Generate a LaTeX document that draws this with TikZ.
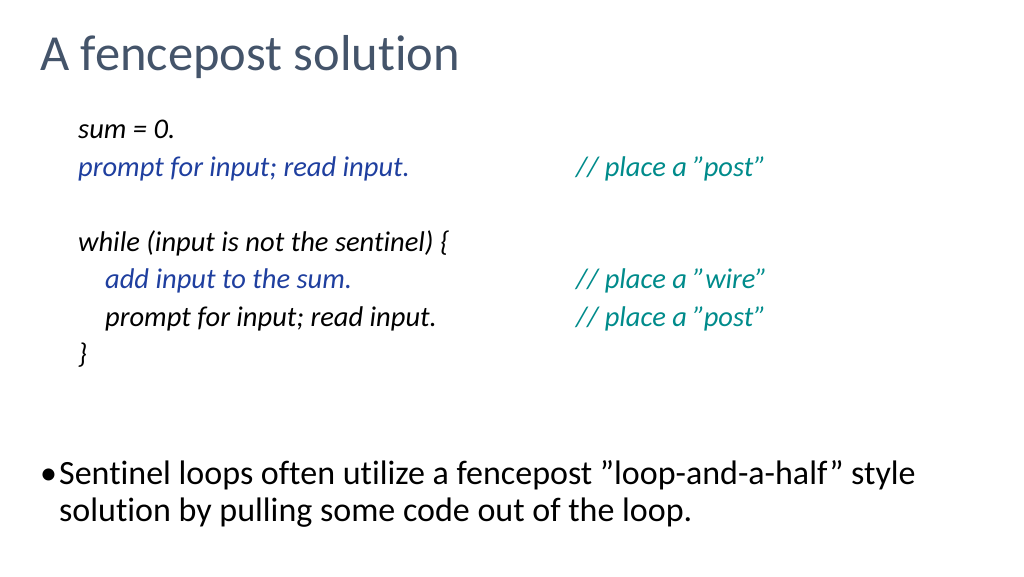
\documentclass[tikz,border=0pt]{standalone}
\usepackage{fontspec}
\setmainfont{Carlito}[Ligatures=NoCommon]
\definecolor{titlec}{HTML}{44546A}
\definecolor{codeblue}{HTML}{1F3F9F}
\definecolor{teal2}{HTML}{008B8B}
\newcommand{\dq}{\symbol{34}}
\begin{document}
\begin{tikzpicture}[x=1pt,y=-1pt,
  code/.style={anchor=base west,inner sep=0,font=\fontsize{28.5}{32}\selectfont\itshape},
  body/.style={anchor=base west,inner sep=0,font=\fontsize{34}{40}\selectfont}]
\useasboundingbox (0,0) rectangle (1024,576);
\node[anchor=base west,inner sep=0,text=titlec,font=\fontsize{50.5}{56}\selectfont] (title) at (40,70) {A fencepost solution};
\node[code] (l1) at (78,138) {sum = 0.};
\node[code,text=codeblue] (l2) at (78,176) {prompt for input; read input.};
\node[code,text=teal2] (c2) at (576,176) {// place a \dq post\dq};
\node[code] (l3) at (78,251) {while (input is not the sentinel) \{};
\node[code,text=codeblue] (l4) at (105,288) {add input to the sum.};
\node[code,text=teal2] (c4) at (576,288) {// place a \dq wire\dq};
\node[code] (l5) at (105,326) {prompt for input; read input.};
\node[code,text=teal2] (c5) at (576,326) {// place a \dq post\dq};
\node[code] (l6) at (78,363) {\}};
\node[body] (b) at (40,484) {•};
\node[body] (t1) at (59,484) {Sentinel loops often utilize a fencepost \dq loop-and-a-half\dq\ style};
\node[body] (t2) at (59,521) {solution by pulling some code out of the loop.};
\end{tikzpicture}
\end{document}
